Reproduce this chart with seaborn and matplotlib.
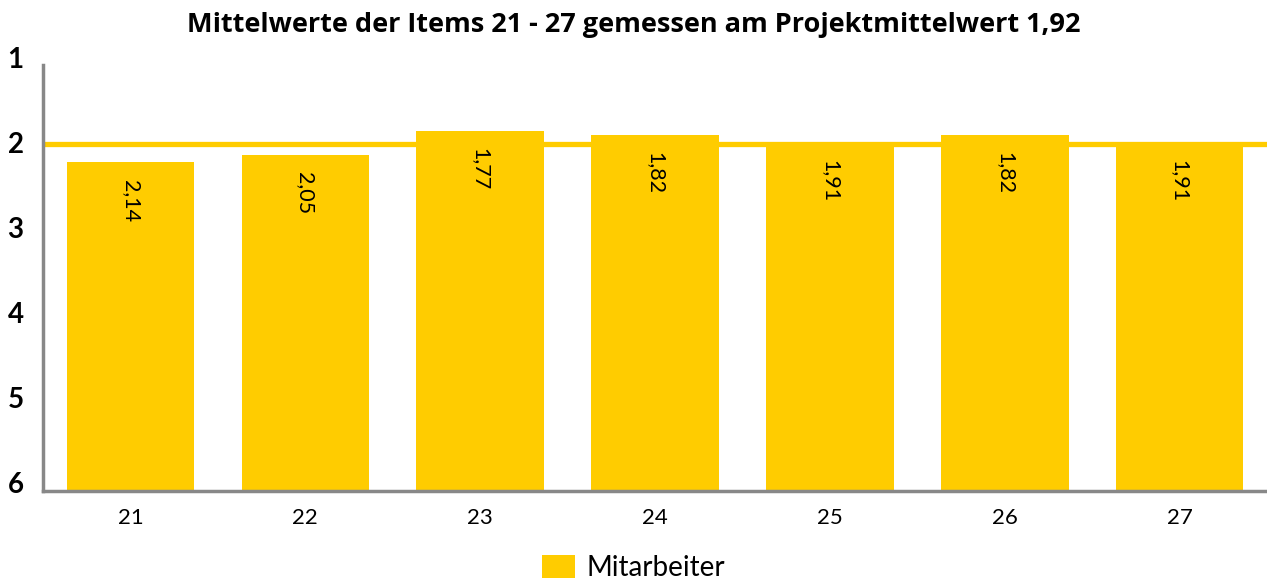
import pandas as pd
import matplotlib.pyplot as plt
import matplotlib.transforms as mtransforms
import seaborn as sns
from matplotlib.patches import Patch

items = ["21", "22", "23", "24", "25", "26", "27"]
means = [2.14, 2.05, 1.77, 1.82, 1.91, 1.82, 1.91]
project_mean = 1.92
scale_labels = ["6", "5", "4", "3", "2", "1"]

yellow = "#FFCC00"
grey = "#888888"

# scale runs 1 (top) .. 6 (bottom); bars grow up from 6
df = pd.DataFrame({"Item": items, "Mittelwert": means})
df["Hoehe"] = 6 - df["Mittelwert"]

sns.set_style("white")
plt.rcParams['font.family'] = ['Lato', 'DejaVu Sans']
plt.rcParams['text.color'] = 'black'
plt.rcParams['xtick.color'] = 'black'
plt.rcParams['ytick.color'] = 'black'

fig = plt.figure(figsize=(12.67, 5.84), dpi=100)
ax = fig.add_axes([0.034, 0.159, 0.966, 0.729])

ax.axhline(6 - project_mean, color=yellow, lw=3.8, zorder=1)
sns.barplot(data=df, x="Item", y="Hoehe", color=yellow, saturation=1,
            width=0.73, edgecolor="none", linewidth=0, ax=ax, zorder=2)

for i, row in df.iterrows():
    ax.text(i, row["Hoehe"] - 0.2, f"{row['Mittelwert']:.2f}".replace(".", ","),
            rotation=-90, ha="center", va="top", fontsize=15.5, zorder=3)

ax.set_ylim(0, 5)
ax.set_xlim(-0.5, 6.5)
ax.set_yticks(range(6))
ax.set_yticklabels(scale_labels, fontsize=20, fontweight="bold")
ax.tick_params(axis="x", labelsize=16, length=0, pad=12)
ax.tick_params(axis="y", length=0, pad=14)
shift = mtransforms.ScaledTranslation(0, 6 / 72, fig.dpi_scale_trans)
for lbl in ax.get_yticklabels():
    lbl.set_transform(lbl.get_transform() + shift)
ax.set_xlabel("")
ax.set_ylabel("")
for s in ["top", "right"]:
    ax.spines[s].set_visible(False)
for s in ["left", "bottom"]:
    ax.spines[s].set_color(grey)
    ax.spines[s].set_linewidth(2.5)

fig.suptitle("Mittelwerte der Items 21 - 27 gemessen am Projektmittelwert 1,92",
             y=0.98, fontsize=19.5, fontweight="bold", family=['Open Sans', 'DejaVu Sans'])

handle = Patch(facecolor=yellow, edgecolor="none")
fig.legend([handle], ["Mitarbeiter"], loc="lower center", bbox_to_anchor=(0.5, -0.038),
           frameon=False, fontsize=20, handlelength=1.2, handleheight=0.9,
           handletextpad=0.4)

fig.savefig("out.png", dpi=100)
